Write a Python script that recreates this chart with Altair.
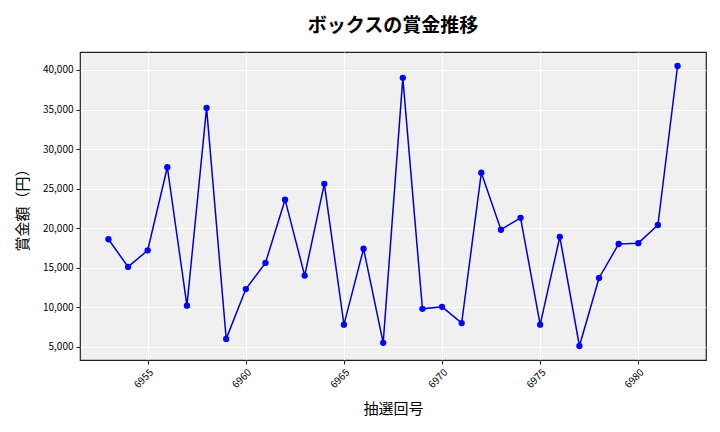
import altair as alt
import pandas as pd

# 抽選回号 and prize amounts
draws = list(range(6953, 6983))
prize = [18600, 15100, 17200, 27700, 10200, 35200, 6000, 12300, 15600, 23600,
         14000, 25600, 7800, 17400, 5500, 39000, 9800, 10050, 8000, 27000,
         19800, 21300, 7800, 18900, 5100, 13700, 18000, 18100, 20400, 40500]
x_ticks = [6955, 6960, 6965, 6970, 6975, 6980]
y_ticks = [5000, 10000, 15000, 20000, 25000, 30000, 35000, 40000]

df = pd.DataFrame({"draw": draws, "prize": prize})
FONT = "Noto Sans CJK JP"

base = alt.Chart(df).encode(
    x=alt.X(
        "draw:Q",
        scale=alt.Scale(domain=[6951.55, 6983.45], nice=False, zero=False),
        axis=alt.Axis(
            title="抽選回号", values=x_ticks, format="d", labelAngle=-45,
            labelAlign="right", labelBaseline="top", grid=True,
            titleFontSize=15, titleFontWeight="normal", titlePadding=12,
        ),
    ),
    y=alt.Y(
        "prize:Q",
        scale=alt.Scale(domain=[3330, 42270], nice=False, zero=False),
        axis=alt.Axis(
            title="賞金額（円）", values=y_ticks, format=",.0f", grid=True,
            titleFontSize=15, titleFontWeight="normal", titlePadding=12,
        ),
    ),
)

line = base.mark_line(color="#0000cc", strokeWidth=1.5)
points = base.mark_circle(color="#0000ff", size=40, opacity=1)

chart = (
    (line + points)
    .properties(
        width=626,
        height=308,
        autosize=alt.AutoSizeParams(type="none"),
        padding={"left": 72, "top": 44, "right": 6, "bottom": 60},
        title=alt.TitleParams(
            "ボックスの賞金推移", fontSize=19, fontWeight="bold", font=FONT,
            offset=16, color="#000",
        ),
    )
    .configure_view(fill="#f0f0f0", stroke="#222", strokeWidth=1.2)
    .configure_axis(
        gridColor="#ffffff", gridWidth=1, domain=False, tickColor="#222",
        tickSize=4, labelFont=FONT, titleFont=FONT, labelFontSize=10,
        labelColor="#000", titleColor="#000", labelPadding=3,
    )
)

chart.save("out.html", embed_options={"renderer": "svg", "actions": False})
